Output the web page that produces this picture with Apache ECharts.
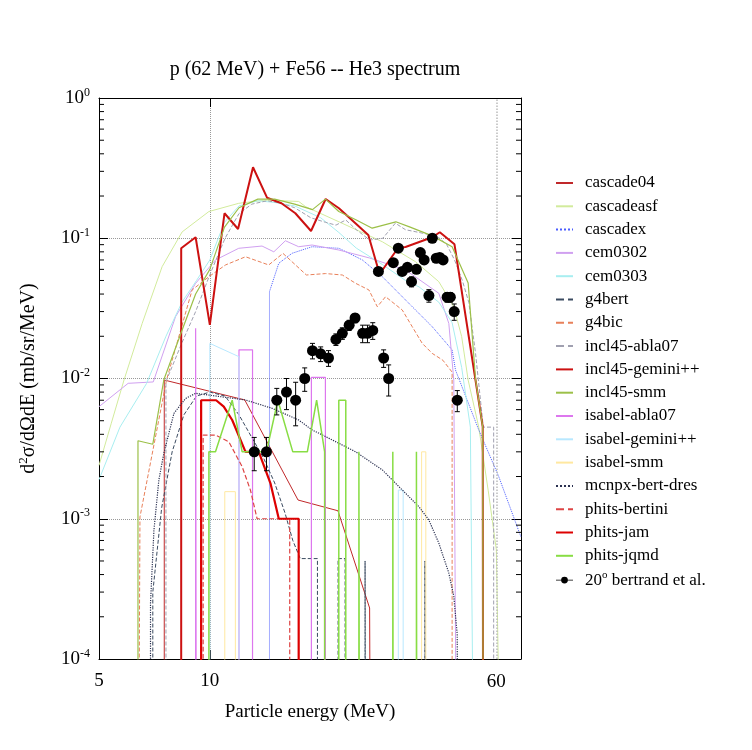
<!DOCTYPE html>
<html>
<head>
<meta charset="utf-8">
<script src="https://cdn.jsdelivr.net/npm/echarts@6/dist/echarts.min.js"></script>
<style>
html, body { margin: 0; padding: 0; background: #fff; }
#chart { width: 752px; height: 750px; }
</style>
</head>
<body>
<div id="chart"></div>
<script>
(function () {
var Z = 1e-6; // empty bins: below the axis, clipped away

// [energy MeV, d2sigma/dOmega dE]
var cascade04 = [[7.52, Z], [7.52, 0.00975], [12.44, 0.00703], [17.36, 0.00136], [22.28, 0.00114], [27.16, 0.000231], [27.4, Z]];
var cascadeasf = [[5, 0.0024], [5.4, 0.0048], [5.85, 0.0098], [6.55, 0.0247], [7.42, 0.0627], [8.41, 0.111], [9.94, 0.155], [11.98, 0.1775],
    [14.15, 0.187], [17.43, 0.183], [18.2, 0.168], [22.42, 0.131], [29.41, 0.0944], [36.2, 0.068], [41.87, 0.049], [45.98, 0.0325],
    [48.3, 0.0199], [50.3, 0.00975], [53.75, 0.0045], [57, 0.0016], [60, 0.0006], [62.5, Z]];
var cascadex = [[14.52, Z], [14.52, 0.0416], [15.39, 0.0663], [16.72, 0.0781], [18.95, 0.087], [22.42, 0.0848], [25.96, 0.07],
    [29.41, 0.0532], [34.0, 0.0363], [40.18, 0.0234], [45.5, 0.016], [46.47, 0.0115], [53.75, 0.0043], [60.9, 0.002], [70, 0.00074]];
var cem0302 = [[5, 0.0063], [6, 0.00924], [7.02, 0.00945], [8.07, 0.0276], [9.15, 0.0477], [10.36, 0.07], [11.98, 0.0848], [13.86, 0.088],
    [14.92, 0.08], [16.04, 0.096], [17.43, 0.087], [18.95, 0.0895], [22.42, 0.0824], [27.16, 0.0723], [34, 0.0594], [41.87, 0.0405],
    [44.57, 0.0247], [45.98, 0.00975], [47.06, Z]];
var cem0303 = [[5, 0.0019], [5.7, 0.0045], [6.73, 0.0092], [7.6, 0.02], [8.4, 0.035], [9.2, 0.05], [10, 0.07], [10.96, 0.13], [12, 0.17],
    [13.5, 0.185], [15, 0.18], [17, 0.17], [20, 0.14], [22.4, 0.11], [25, 0.085], [29.4, 0.065], [34, 0.05], [37, 0.045], [41.87, 0.035],
    [45.5, 0.025], [48.3, 0.012], [51, 0.0045], [52.5, Z]];
var g4bert = [[7.0, Z], [7.0, 0.0003], [7.4, 0.0012], [7.9, 0.003], [8.5, 0.0055], [9.2, 0.0075], [10, 0.008], [11, 0.0075], [12, 0.0055],
    [13, 0.0038], [14, 0.0027], [15, 0.0018], [16, 0.0011], [16.8, 0.0007], [17.6, 0.00052], [19.6, 0.00052], [19.6, Z], [22.3, Z],
    [22.3, 0.00052], [23.3, 0.00052], [23.3, Z], [26.4, Z], [26.4, 0.0005], [26.5, Z], [38.4, Z], [38.4, 0.0005], [38.5, Z]];
var g4bic = [[6.38, Z], [6.46, 0.00103], [7.63, 0.0098], [8.95, 0.0428], [9.94, 0.0532], [11.03, 0.0645], [12.5, 0.0738], [14.45, 0.0645],
    [15.8, 0.078], [18.29, 0.0547], [20.63, 0.056], [22.9, 0.0547], [24.89, 0.0477], [27.04, 0.0428], [28.5, 0.0325], [30.01, 0.0383],
    [33.31, 0.0308], [35.46, 0.0234], [37.75, 0.0178], [40.18, 0.0151], [42.94, 0.0135], [45.5, 0.0111], [45.5, Z]];
var incl45abla07 = [[7.6, Z], [7.6, 0.0095], [8.4, 0.018], [9.15, 0.03], [10, 0.055], [11, 0.1], [12, 0.15], [13, 0.175], [14.3, 0.185],
    [15.6, 0.178], [17, 0.165], [18.8, 0.14], [20.6, 0.13], [22.0, 0.124], [23.4, 0.135], [25, 0.115], [27.2, 0.097], [29.5, 0.1],
    [31.9, 0.128], [34, 0.115], [37, 0.11], [40.2, 0.105], [42.1, 0.1], [44, 0.09], [46.2, 0.07], [48.5, 0.05], [50.5, 0.035],
    [52.7, 0.015], [55.3, 0.0045], [59, 0.0045], [59, Z]];
var incl45gemini = [[8.36, Z], [8.36, 0.0848], [9.15, 0.1016], [10.0, 0.0241], [10.96, 0.1507], [11.93, 0.1164], [13.1, 0.3206],
    [14.3, 0.1946], [15.65, 0.1775], [17.07, 0.1507], [18.83, 0.1126], [20.63, 0.1905], [22.42, 0.1635], [26.94, 0.1055],
    [28.91, 0.0556], [32.49, 0.0856], [34.0, 0.0866], [40.18, 0.1016], [42.13, 0.1103], [46.18, 0.0905], [52.66, 0.00976],
    [55.1, 0.00453], [55.3, Z]];
var incl45smm = [[6.38, Z], [6.38, 0.0036], [7.0, 0.0034], [7.5, 0.0098], [8.4, 0.022], [9.15, 0.04], [10, 0.06], [10.96, 0.12],
    [12, 0.165], [13.5, 0.19], [15, 0.19], [17, 0.175], [19, 0.16], [20.6, 0.19], [22.4, 0.155], [25, 0.135], [27.6, 0.118],
    [32, 0.131], [35, 0.12], [40.2, 0.104], [45.5, 0.087], [50.3, 0.048], [52.7, 0.0098], [55.1, 0.0045], [55.3, Z]];
var isabelAbla07 = [[9.15, Z], [9.15, 0.0228], [9.2, Z], [12.0, Z], [12.0, 0.016], [13.06, 0.016], [13.06, Z], [18.87, Z],
    [18.87, 0.0102], [20.6, 0.0102], [20.6, Z]];
var isabelGemini = [[10, Z], [10, 0.0178], [12, 0.0143], [12, Z], [32.5, Z], [32.5, 0.0016], [33.5, 0.0016], [33.5, Z]];
var isabelSmm = [[10.98, Z], [10.98, 0.00156], [11.73, 0.00156], [11.73, Z], [37.6, Z], [37.6, 0.003], [38.6, 0.003], [38.6, Z]];
var mcnpx = [[6.9, Z], [6.9, 0.00025], [7.05, 0.00083], [7.27, 0.00189], [7.5, 0.00293], [7.99, 0.00565], [8.59, 0.0072],
    [9.15, 0.00784], [12.5, 0.00703], [14.76, 0.00613], [17.43, 0.00506], [18.95, 0.0043], [19.79, 0.00407], [22.42, 0.00345],
    [24.89, 0.003], [29.41, 0.00223], [31.95, 0.00179], [36.96, 0.00122], [39.34, 0.00098], [41.87, 0.00067], [44.57, 0.00041],
    [45.98, 0.00028], [46.97, 0.00015], [47.44, Z]];
var phitsBertini = [[9.59, Z], [9.59, 0.00395], [10.36, 0.00395], [11.26, 0.00354], [12.24, 0.00235], [12.89, 0.0016], [13.44, 0.001],
    [16.48, 0.001], [16.48, Z]];
var phitsJam = [[9.47, Z], [9.47, 0.007], [10.4, 0.007], [10.91, 0.0063], [11.5, 0.00506], [12.5, 0.003], [13.58, 0.003],
    [14.61, 0.00179], [15.39, 0.001], [17.43, 0.001], [17.43, Z]];
var phitsJqmd = [[9.94, Z], [9.94, 0.003], [10.36, 0.003], [11.5, 0.007], [12.24, 0.003], [14.25, 0.003], [15.3, 0.007], [16.8, 0.003],
    [18.4, 0.003], [19.5, 0.007], [20.5, 0.003], [20.5, Z], [22.4, Z], [22.4, 0.007], [23.4, 0.007], [23.4, Z], [25.4, Z],
    [25.4, 0.003], [25.5, Z], [31.4, Z], [31.4, 0.003], [31.5, Z], [36.4, Z], [36.4, 0.003], [36.5, Z]];

// 20 deg data, bertrand et al.
var expE = [13.2, 14.25, 15.2, 16.15, 17.1, 18.1, 19.0, 20.0, 21.0, 22.0, 22.9, 23.9, 24.8, 26.0, 26.8, 27.7, 28.7, 29.65, 30.6,
    31.5, 32.5, 33.3, 34.4, 35.3, 36.4, 37.3, 38.2, 39.35, 40.2, 41.2, 42.1, 43.0, 44.1, 45.0, 46.1, 47.0];
var expV = [0.003, 0.003, 0.007, 0.008, 0.007, 0.010, 0.0158, 0.015, 0.014, 0.019, 0.021, 0.024, 0.027, 0.021, 0.021, 0.022, 0.058,
    0.014, 0.010, 0.067, 0.085, 0.058, 0.062, 0.049, 0.060, 0.079, 0.070, 0.039, 0.100, 0.072, 0.073, 0.070, 0.038, 0.038, 0.030, 0.007];
var expErr = [0.0008, 0.0008, 0.0015, 0.002, 0.0024, 0.0019, 0.002, 0.0018, 0.0018, 0.0018, 0.002, 0.002, 0.002, 0.003, 0.003, 0.003,
    0.003, 0.002, 0.0025, 0.003, 0.004, 0.003, 0.003, 0.004, 0.003, 0.004, 0.004, 0.004, 0.004, 0.004, 0.004, 0.004, 0.003, 0.003,
    0.004, 0.0012];

var xLabels = [5, 10];
var xGrid = [60];
var minorTicks = [];
for (var k = -4; k < 0; k++) {
    for (var m = 2; m <= 9; m++) minorTicks.push(m * Math.pow(10, k));
}

var font = 'Liberation Serif';

var models = [
    { name: 'cascade04', data: cascade04, color: '#c0282a', width: 1, type: 'solid' },
    { name: 'cascadeasf', data: cascadeasf, color: '#d2eb9c', width: 1, type: 'solid' },
    { name: 'cascadex', data: cascadex, color: '#4a5cff', width: 1, type: 'dotted' },
    { name: 'cem0302', data: cem0302, color: '#d0a0f0', width: 1, type: 'solid' },
    { name: 'cem0303', data: cem0303, color: '#a8eef0', width: 1, type: 'solid' },
    { name: 'g4bert', data: g4bert, color: '#3a4a60', width: 1, type: 'dashed' },
    { name: 'g4bic', data: g4bic, color: '#e8805a', width: 1, type: 'dashed' },
    { name: 'incl45-abla07', data: incl45abla07, color: '#a0a0b0', width: 1, type: 'dashed' },
    { name: 'incl45-gemini++', data: incl45gemini, color: '#cc1111', width: 2, type: 'solid' },
    { name: 'incl45-smm', data: incl45smm, color: '#9cc048', width: 1.2, type: 'solid' },
    { name: 'isabel-abla07', data: isabelAbla07, color: '#dd77ee', width: 1.2, type: 'solid' },
    { name: 'isabel-gemini++', data: isabelGemini, color: '#b8e8ff', width: 1, type: 'solid' },
    { name: 'isabel-smm', data: isabelSmm, color: '#ffe8a0', width: 1, type: 'solid' },
    { name: 'mcnpx-bert-dres', data: mcnpx, color: '#2a3050', width: 1.2, type: 'dotted' },
    { name: 'phits-bertini', data: phitsBertini, color: '#dd4444', width: 1.2, type: 'dashed' },
    { name: 'phits-jam', data: phitsJam, color: '#dd0000', width: 2.2, type: 'solid' },
    { name: 'phits-jqmd', data: phitsJqmd, color: '#88dd44', width: 1.5, type: 'solid' }
];

var series = models.map(function (m) {
    return {
        name: m.name,
        type: 'line',
        data: m.data,
        symbol: 'none',
        clip: true,
        lineStyle: { color: m.color, width: m.width, type: m.type },
        itemStyle: { color: m.color }
    };
});

var expData = expE.map(function (e, i) { return [e, expV[i], expErr[i]]; });

// error bars
series.push({
    name: 'bertrand-err',
    type: 'custom',
    data: expData,
    encode: { x: 0, y: 1 },
    z: 5,
    renderItem: function (params, api) {
        var e = api.value(0), v = api.value(1), d = api.value(2);
        var lo = api.coord([e, v - d]), hi = api.coord([e, v + d]);
        var st = { stroke: '#000', lineWidth: 1 };
        return {
            type: 'group',
            children: [
                { type: 'line', shape: { x1: lo[0], y1: lo[1], x2: hi[0], y2: hi[1] }, style: st },
                { type: 'line', shape: { x1: lo[0] - 2.5, y1: lo[1], x2: lo[0] + 2.5, y2: lo[1] }, style: st },
                { type: 'line', shape: { x1: hi[0] - 2.5, y1: hi[1], x2: hi[0] + 2.5, y2: hi[1] }, style: st }
            ]
        };
    }
});

series.push({
    name: 'bertrand',
    type: 'scatter',
    data: expData,
    symbol: 'circle',
    symbolSize: 11,
    z: 6,
    itemStyle: { color: '#000', opacity: 1 },
    markLine: {
        silent: true,
        symbol: 'none',
        lineStyle: { color: '#bbbbbb', width: 1.5, type: 'dotted' },
        label: {
            show: true, position: 'start', distance: 14, color: '#000',
            fontFamily: font, fontSize: 19, formatter: function (p) { return String(p.value); }
        },
        data: xGrid.map(function (x) { return { xAxis: x }; })
    }
});

// y minor ticks, both sides
series.push({
    name: 'minor',
    type: 'custom',
    data: minorTicks,
    encode: { y: 0 },
    silent: true,
    z: 7,
    renderItem: function (params, api) {
        var cs = params.coordSys;
        var y = api.coord([5, api.value(0)])[1];
        var st = { stroke: '#000', lineWidth: 1 };
        return {
            type: 'group',
            children: [
                { type: 'line', shape: { x1: cs.x, y1: y, x2: cs.x + 5, y2: y }, style: st },
                { type: 'line', shape: { x1: cs.x + cs.width - 5, y1: y, x2: cs.x + cs.width, y2: y }, style: st }
            ]
        };
    }
});

var legendData = models.map(function (m) { return m.name; });
legendData.push({
    name: 'bertrand',
    icon: 'path://M0,4.5L20,4.5L20,5.5L0,5.5Z M14,5A4,4,0,1,1,6,5A4,4,0,1,1,14,5Z',
    itemStyle: { opacity: 1, color: '#000' }
});

var yAxisBase = {
    type: 'log',
    logBase: 10,
    min: 0.0001,
    max: 1,
    axisLine: { show: true, lineStyle: { color: '#000', width: 1 } },
    axisTick: { show: true, inside: true, length: 9, lineStyle: { color: '#000' } }
};

var option = {
    backgroundColor: '#fff',
    animation: false,
    title: {
        text: 'p (62 MeV) + Fe56 -- He3 spectrum',
        left: 310,
        top: 55,
        textAlign: 'center',
        textStyle: { fontFamily: font, fontSize: 20, fontWeight: 'normal', color: '#000' }
    },
    legend: {
        orient: 'vertical',
        left: 555,
        top: 174,
        padding: 0,
        itemWidth: 17,
        itemHeight: 10,
        itemGap: 5.3,
        selectedMode: false,
        data: legendData,
        itemStyle: { opacity: 0 },
        formatter: function (name) {
            return name === 'bertrand' ? '20{s|o} bertrand et al.' : name;
        },
        textStyle: {
            fontFamily: font, fontSize: 17, lineHeight: 18, color: '#000', padding: [0, 0, 0, 7],
            rich: { s: { fontFamily: font, fontSize: 11, padding: [0, 0, 9, 0] } }
        }
    },
    grid: { left: 99, top: 98, width: 422, height: 561 },
    xAxis: [{
        type: 'log',
        logBase: 10,
        min: 5,
        max: 70,
        name: 'Particle energy (MeV)',
        nameLocation: 'middle',
        nameGap: 44,
        nameTextStyle: { fontFamily: font, fontSize: 19, color: '#000' },
        axisLine: { show: true, lineStyle: { color: '#000', width: 1 } },
        axisTick: { show: true, inside: true, length: 9, lineStyle: { color: '#000' } },
        axisLabel: {
            margin: 13, fontFamily: font, fontSize: 19, color: '#000', showMaxLabel: false,
            formatter: function (v) { return xLabels.indexOf(Math.round(v)) >= 0 ? String(Math.round(v)) : ''; }
        },
        splitLine: { show: true, lineStyle: { color: '#999', type: 'dotted', width: 1 } }
    }, {
        type: 'log',
        logBase: 10,
        min: 5,
        max: 70,
        position: 'top',
        axisLine: { show: true, lineStyle: { color: '#000', width: 1 } },
        axisTick: { show: true, inside: true, length: 9, lineStyle: { color: '#000' } },
        axisLabel: { show: false },
        splitLine: { show: false }
    }],
    yAxis: [echarts.util.merge({
        position: 'left',
        name: '{b|d}{s|2}{b|\u03c3/d\u03a9dE (mb/sr/MeV)}',
        nameLocation: 'middle',
        nameGap: 58,
        nameRotate: 90,
        nameTextStyle: {
            fontFamily: font, fontSize: 20, color: '#000',
            rich: {
                b: { fontFamily: font, fontSize: 20, color: '#000' },
                s: { fontFamily: font, fontSize: 13, color: '#000', padding: [0, 0, 11, 0] }
            }
        },
        axisLabel: {
            margin: 9,
            formatter: function (v) {
                var e = Math.round(Math.log(v) / Math.LN10);
                return '{b|10}{s|' + e + '}';
            },
            rich: {
                b: { fontFamily: font, fontSize: 19, color: '#000' },
                s: { fontFamily: font, fontSize: 12, color: '#000', padding: [0, 0, 11, 0] }
            }
        },
        splitLine: { show: true, lineStyle: { color: '#999', type: 'dotted', width: 1 } }
    }, yAxisBase, true), echarts.util.merge({
        position: 'right',
        axisLabel: { show: false },
        splitLine: { show: false }
    }, yAxisBase, true)],
    series: series
};

var chart = echarts.init(document.getElementById('chart'));
chart.setOption(option);
})();
</script>
</body>
</html>
